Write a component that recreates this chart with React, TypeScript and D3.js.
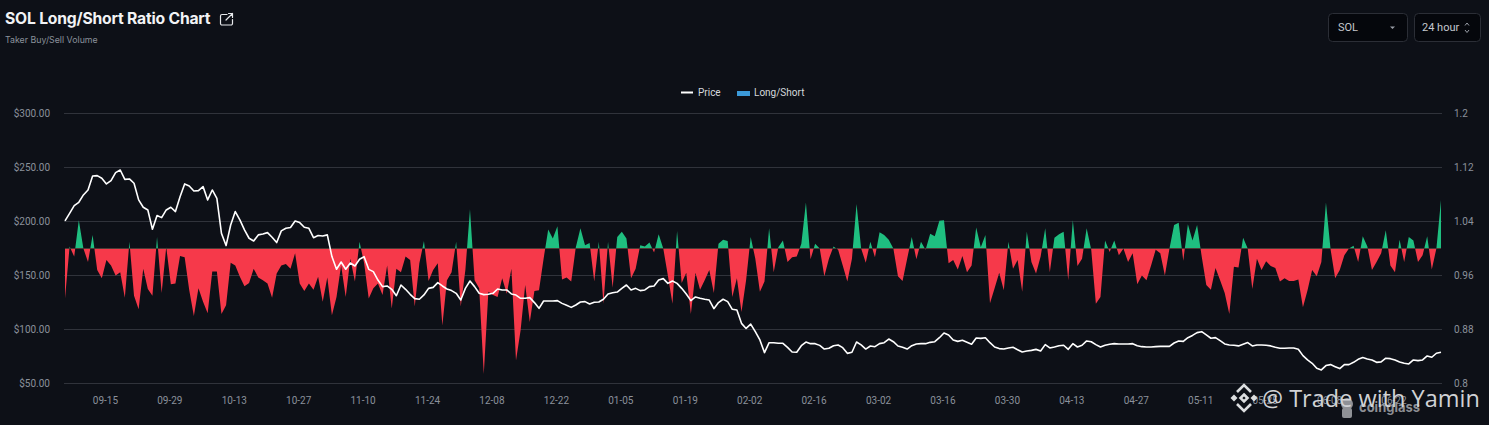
import { area, line, scaleLinear } from 'd3';

// SOL long/short ratio: daily taker buy/sell ratio (area around 1.0) with the price line on top.

const WIDTH = 1489;
const HEIGHT = 425;

const dateLabels = [
  '09-15', '09-29', '10-13', '10-27', '11-10', '11-24', '12-08', '12-22', '01-05', '01-19', '02-02',
  '02-16', '03-02', '03-16', '03-30', '04-13', '04-27', '05-11', '05-25', '06-08', '06-22',
];
const firstLabelDay = 9;
const labelStep = 14;

const priceTicks = [50, 100, 150, 200, 250, 300];
const ratioTicks = [0.8, 0.88, 0.96, 1.04, 1.12, 1.2];

const ratio = [
  0.926, 1.003, 0.988, 1.042, 1.0, 0.98, 1.02, 0.968, 0.956, 0.983,
  0.975, 0.96, 0.965, 0.927, 1.01, 0.93, 0.91, 0.97, 0.94, 0.93,
  1.017, 0.934, 1.002, 0.947, 0.948, 0.989, 0.987, 0.938, 0.9, 0.941,
  0.921, 0.904, 0.966, 0.966, 0.903, 0.916, 0.979, 0.975, 0.958, 0.944,
  0.949, 0.97, 0.957, 0.953, 0.948, 0.927, 0.963, 0.975, 0.977, 0.97,
  0.993, 0.948, 0.937, 0.948, 0.939, 0.958, 0.921, 0.957, 0.901, 0.928,
  0.975, 0.928, 0.985, 0.951, 1.01, 0.978, 0.926, 0.941, 0.948, 0.931,
  0.975, 0.911, 0.97, 0.965, 0.988, 0.983, 0.914, 0.978, 1.011, 0.952,
  0.968, 0.978, 0.886, 0.953, 0.965, 1.01, 0.914, 0.968, 1.058, 0.953,
  0.941, 0.814, 0.936, 0.931, 0.928, 0.956, 0.933, 0.97, 0.834, 0.879,
  0.946, 0.891, 0.937, 0.938, 0.985, 1.028, 1.015, 1.033, 0.954, 0.957,
  0.951, 1.002, 1.03, 1.005, 1.008, 0.951, 1.01, 0.918, 1.01, 0.942,
  1.017, 1.025, 1.015, 0.956, 0.97, 1.005, 1.003, 1.009, 0.994, 1.021,
  1.0, 0.96, 0.918, 1.026, 0.949, 0.964, 0.903, 0.964, 0.939, 0.953,
  0.968, 0.934, 1.007, 1.013, 1.011, 0.928, 0.956, 0.906, 0.953, 1.017,
  0.985, 0.936, 0.951, 1.03, 0.965, 1.002, 1.012, 0.98, 0.987, 0.988,
  1.007, 1.068, 0.984, 1.007, 1.0, 0.959, 0.985, 1.003, 0.998, 0.975,
  0.951, 0.985, 1.066, 1.0, 0.979, 1.01, 0.987, 1.024, 1.02, 1.013,
  1.0, 0.959, 0.952, 0.985, 1.017, 0.984, 1.01, 0.998, 1.022, 1.018,
  1.041, 1.042, 0.978, 0.983, 0.969, 0.989, 0.965, 0.975, 1.031, 1.002,
  1.02, 0.919, 0.941, 0.964, 0.938, 1.01, 0.97, 0.983, 0.936, 1.025,
  0.98, 0.963, 0.988, 1.03, 0.965, 1.016, 1.021, 1.025, 0.953, 1.042,
  0.974, 0.985, 1.03, 0.998, 0.918, 0.928, 1.012, 0.995, 1.012, 0.99,
  1.0, 0.98, 0.993, 0.947, 0.96, 0.953, 0.975, 0.998, 0.993, 0.96,
  1.0, 1.035, 1.038, 0.982, 1.036, 1.012, 1.035, 0.988, 0.946, 0.939,
  0.971, 0.953, 0.934, 0.903, 0.973, 0.972, 1.016, 1.0, 0.94, 0.985,
  0.968, 0.981, 0.974, 0.971, 0.951, 0.956, 0.952, 0.952, 0.954, 0.913,
  0.938, 0.968, 0.959, 0.98, 1.068, 0.999, 0.956, 0.968, 0.99, 1.0,
  1.004, 0.98, 1.018, 1.003, 0.968, 0.98, 0.993, 1.027, 0.975, 0.965,
  1.013, 0.98, 1.017, 1.012, 0.98, 0.99, 1.018, 0.969, 1.0, 1.072,
];

const price = [
  200.5, 207.6, 214.7, 217.8, 224.6, 229.2, 242.2, 242.5, 240, 234.8,
  237.9, 245.3, 247.7, 239, 239.4, 235.4, 220, 213.2, 210.7, 192.8,
  205.5, 203.6, 210.7, 213.2, 209.2, 223, 234.8, 232.9, 228.3, 228.6,
  232.3, 220, 229.2, 221.5, 189, 177.7, 196.8, 209.2, 201.5, 192.2,
  184.5, 182, 187.6, 188.5, 189.7, 185.4, 180.5, 191.3, 193.7, 194.4,
  200.5, 199, 194.7, 193.7, 185, 187, 186.6, 187.6, 167.5, 155.8,
  162.5, 155.8, 161.6, 158.8, 165, 167.4, 155.7, 153.6, 145.8, 139.7,
  140.3, 137.2, 131.3, 141.2, 137.2, 132.6, 128.6, 128, 132, 138.1,
  139, 143.4, 140.3, 137.5, 136, 133.5, 127.3, 138.1, 144.9, 139.7,
  133.5, 132.3, 132.6, 133.5, 137.5, 136.6, 136.6, 132.9, 131.9, 128.9,
  128.9, 129.5, 124.9, 119.6, 126.4, 126.4, 126.4, 126.7, 124.2, 122.4,
  120.5, 122.7, 125.5, 125.8, 123.6, 125.2, 125.5, 128, 132.9, 134.1,
  134.7, 138.1, 141.2, 136.6, 138.1, 136, 136.6, 139.7, 140.3, 145.8,
  147.1, 142.7, 144.9, 142.7, 138.1, 132.9, 126.7, 130.1, 128.9, 128,
  127.3, 119.3, 124.9, 128, 125.8, 118.7, 118, 105.7, 101, 105,
  98, 90.3, 78.6, 87.8, 87.8, 87.2, 87.2, 83.5, 79.2, 78.9,
  85, 88.4, 86.9, 86.9, 85.3, 81.9, 82.6, 85, 85.7, 83.2,
  77.9, 78.9, 88.4, 85.7, 81.9, 84.7, 84.1, 86.9, 87.8, 91.2,
  88.7, 84.7, 83.5, 81.9, 85, 86.6, 86.9, 86.9, 88.1, 88.7,
  92.4, 96.8, 94.9, 90.3, 89, 90, 88.1, 86.3, 92.1, 91.8,
  92.4, 87.8, 83.8, 82.3, 81.9, 82.9, 83.5, 81.3, 79.2, 80.1,
  80.7, 81.6, 80.1, 86, 82.9, 83.8, 85, 85.4, 81.6, 86.9,
  83.8, 85.4, 89.4, 88.7, 86, 83.8, 85.4, 86.3, 86.9, 86.6,
  86.6, 86.6, 86.9, 85, 84.1, 83.8, 83.8, 84.1, 84.4, 84.4,
  84.4, 87.5, 89.4, 89, 92.4, 94.5, 97.1, 98, 95, 91.9,
  92.5, 89.7, 86.6, 85.7, 85.4, 84.8, 86.3, 87.9, 84.8, 85.7,
  85.7, 85.4, 84.8, 83.5, 82.6, 82.6, 82.9, 82.9, 81.7, 75.8,
  71.8, 68.7, 64.1, 62.6, 66.6, 67.5, 65.6, 63.8, 67.5, 67.5,
  69.6, 72.4, 74, 72.7, 71.8, 69.6, 70, 73.4, 73, 71.8,
  70, 68.7, 68.1, 71.8, 71.2, 71.8, 75.5, 74.3, 78, 78.9,
];

const C = {
  bg: '#0d1017',
  grid: '#30333b',
  axis: '#8b919b',
  sub: '#8a909a',
  green: '#1fbf80',
  red: '#f6394a',
  blue: '#3b9ad9',
};

const FONT = 'Roboto, Inter, sans-serif';

export default function App() {
  const m = { left: 65, right: 1441, top: 113.5, bottom: 383.5 };
  const x = scaleLinear().domain([0, ratio.length - 1]).range([m.left, m.right]);
  const yPrice = scaleLinear().domain([50, 300]).range([m.bottom, m.top]);
  const yRatio = scaleLinear().domain([0.8, 1.2]).range([m.bottom, m.top]);
  const base = yRatio(1);

  const ratioArea = area<number>()
    .x((_d, i) => x(i))
    .y0(base)
    .y1((d) => yRatio(d));
  const priceLine = line<number>()
    .x((_d, i) => x(i))
    .y((d) => yPrice(d));

  return (
    <svg
      width={WIDTH}
      height={HEIGHT}
      viewBox={`0 0 ${WIDTH} ${HEIGHT}`}
      style={{ position: 'absolute', left: 0, top: 0, display: 'block', background: C.bg, fontFamily: FONT }}
    >
      <defs>
        <clipPath id="above">
          <rect x={m.left} y={0} width={m.right - m.left} height={base} />
        </clipPath>
        <clipPath id="below">
          <rect x={m.left} y={base} width={m.right - m.left} height={HEIGHT - base} />
        </clipPath>
      </defs>

      {/* header */}
      <text x={5} y={24} fill="#f2f3f5" style={{ fontFamily: 'Inter, sans-serif', fontSize: 15.7, fontWeight: 700, letterSpacing: -0.2 }}>
        SOL Long/Short Ratio Chart
      </text>
      <text x={5} y={43} fill={C.sub} style={{ fontFamily: 'Inter, sans-serif', fontSize: 8.8 }}>
        Taker Buy/Sell Volume
      </text>
      <g fill="none" stroke="#e6e8eb" strokeWidth={1.2} strokeLinecap="round">
        <path d="M227 14.5 h-5 a1.5 1.5 0 0 0 -1.5 1.5 v7.5 a1.5 1.5 0 0 0 1.5 1.5 h9 a1.5 1.5 0 0 0 1.5 -1.5 v-4" />
        <path d="M226 20 L232.5 13.5 M228.5 13.5 h4 v4" />
      </g>

      {/* selectors */}
      <rect x={1328.5} y={13.5} width={79} height={28} rx={4} fill="#05070c" stroke="#2b2e36" />
      <text x={1338} y={31} fill="#c4c8ce" style={{ fontSize: 11 }}>SOL</text>
      <path d="M1390 26.5 h5 l-2.5 2.6 z" fill="#9a9fa8" />
      <rect x={1414.5} y={13.5} width={66} height={28} rx={4} fill="#05070c" stroke="#2b2e36" />
      <text x={1422} y={31} fill="#c4c8ce" style={{ fontSize: 11 }}>24 hour</text>
      <path d="M1465 25.5 l2 -2.5 l2 2.5 M1465 30 l2 2.5 l2 -2.5" fill="none" stroke="#9a9fa8" strokeWidth={1} />

      {/* legend */}
      <line x1={681} x2={693} y1={92.5} y2={92.5} stroke="#fff" strokeWidth={2} />
      <text x={698} y={96} fill="#d5d8dc" style={{ fontSize: 10 }}>Price</text>
      <rect x={737} y={91} width={13} height={5} fill={C.blue} />
      <text x={754} y={96} fill="#d5d8dc" style={{ fontSize: 10 }}>Long/Short</text>

      {/* grid + axes */}
      {priceTicks.map((t) => (
        <g key={t}>
          <line x1={m.left - 1} x2={m.right + 1} y1={yPrice(t)} y2={yPrice(t)} stroke={C.grid} />
          <text x={50} y={yPrice(t)} dy="0.34em" textAnchor="end" fill={C.axis} style={{ fontSize: 10 }}>
            {`$${t.toFixed(2)}`}
          </text>
        </g>
      ))}
      {ratioTicks.map((t) => (
        <text key={t} x={1454} y={yRatio(t)} dy="0.34em" fill={C.axis} style={{ fontSize: 10 }}>
          {t}
        </text>
      ))}
      {dateLabels.map((d, i) => (
        <text key={d} x={x(firstLabelDay + i * labelStep) - 1} y={404} textAnchor="middle" fill={C.axis} style={{ fontSize: 10 }}>
          {d}
        </text>
      ))}

      {/* ratio area split at 1.0 */}
      <path d={ratioArea(ratio) ?? undefined} fill={C.green} clipPath="url(#above)" />
      <path d={ratioArea(ratio) ?? undefined} fill={C.red} clipPath="url(#below)" />
      <path d={priceLine(price) ?? undefined} fill="none" stroke="#fff" strokeWidth={1.6} strokeLinejoin="round" />

      {/* watermarks: coinglass mascot + text, then the Binance-style mark and author */}
      <g fill="#8f9196">
        <circle cx={1347} cy={404} r={6} />
        <rect x={1342} y={408} width={10} height={10} rx={2} />
      </g>
      <text x={1359} y={412} fill="#8d8f94" style={{ fontFamily: 'Inter, sans-serif', fontSize: 13, fontWeight: 700 }}>
        coinglass
      </text>
      <g fill="none" stroke="#dcdee0" strokeWidth={2.6}>
        <path d="M1237 392 l7 -7 l7 7" />
        <path d="M1237 404 l7 7 l7 -7" />
        <path d="M1244 394.5 l3.5 3.5 l-3.5 3.5 l-3.5 -3.5 z" />
      </g>
      <g fill="#dcdee0">
        <path d="M1234 394.5 l3.5 3.5 l-3.5 3.5 l-3.5 -3.5 z" />
        <path d="M1254 394.5 l3.5 3.5 l-3.5 3.5 l-3.5 -3.5 z" />
      </g>
      <text x={1262} y={407} fill="#d0d2d5" style={{ fontFamily: '"Open Sans", sans-serif', fontSize: 23.5 }}>
        @ Trade with Yamin
      </text>
    </svg>
  );
}
